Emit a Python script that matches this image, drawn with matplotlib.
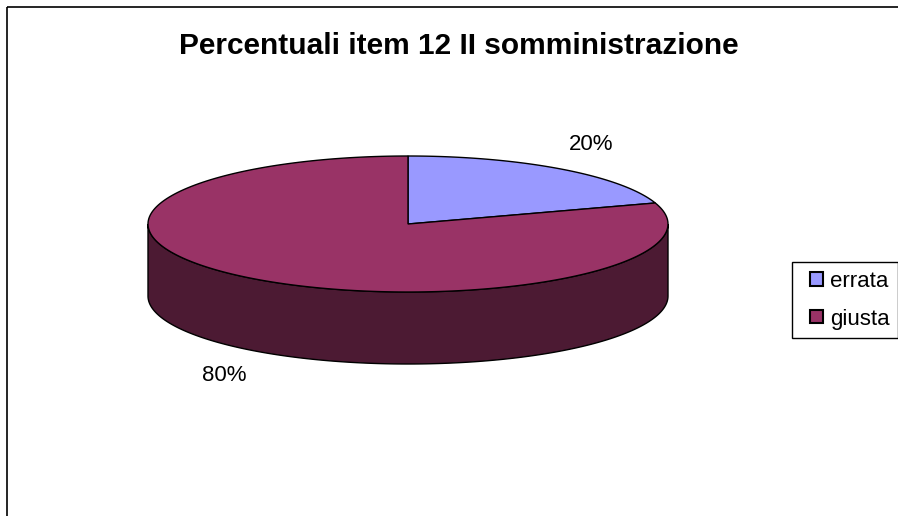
import numpy as np
import matplotlib.pyplot as plt
from matplotlib.patches import Polygon, Rectangle
from matplotlib.legend_handler import HandlerPatch

plt.rcParams['font.family'] = ['Liberation Sans', 'DejaVu Sans']

# data
labels = ['errata', 'giusta']
values = [20, 80]
top_colors = ['#9999FF', '#993366']
side_colors = ['#4D4D80', '#4C1A33']
title = 'Percentuali item 12 II somministrazione'

# geometry of the 3D pie in pixel space
cx, cy = 408, 224
rx, ry = 260, 68
depth = 72

fig = plt.figure(figsize=(8.98, 5.16), dpi=100)
ax = fig.add_axes([0, 0, 1, 1])
ax.set_xlim(0, 898)
ax.set_ylim(516, 0)
ax.axis('off')


def arc(a0, a1, dy=0, n=200):
    t = np.radians(np.linspace(a0, a1, n))
    return np.column_stack([cx + rx * np.cos(t), cy - ry * np.sin(t) + dy])


# slices go clockwise starting from 12 o'clock
fracs = np.array(values) / sum(values)
starts = 90 - 360 * np.concatenate([[0], np.cumsum(fracs)[:-1]])
ends = starts - 360 * fracs

# side walls (front half only: angles 180..360)
for s, e, col in zip(starts, ends, side_colors):
    lo, hi = min(s, e), max(s, e)
    for shift in (-360, 0, 360):
        a0 = max(lo + shift, 180)
        a1 = min(hi + shift, 360)
        if a1 > a0:
            upper = arc(a0, a1)
            lower = arc(a1, a0, dy=depth)
            ax.add_patch(Polygon(np.vstack([upper, lower]), closed=True,
                                 facecolor=col, edgecolor='black', lw=1.0))

# top faces
for s, e, col in zip(starts, ends, top_colors):
    pts = np.vstack([[cx, cy], arc(s, e)])
    ax.add_patch(Polygon(pts, closed=True, facecolor=col,
                         edgecolor='black', lw=1.0))

# percentage labels
for s, e, v in zip(starts, ends, values):
    m = np.radians((s + e) / 2)
    lx = cx + 1.2 * rx * np.cos(m)
    ly = cy - 1.45 * ry * np.sin(m)
    if np.sin(m) < 0:
        ly += depth
    ax.text(lx, ly, f'{v}%', ha='center', va='center', fontsize=16)

ax.text(459, 46, title, ha='center', va='center', fontsize=21.5,
        fontweight='bold')

# chart border (cut off at right and bottom)
ax.add_patch(Rectangle((7, 7), 1000, 600, fill=False, edgecolor='black',
                       lw=1.2, clip_on=False))


def square_right(legend, orig_handle, xdescent, ydescent, width, height,
                 fontsize):
    side = height
    return Rectangle((-xdescent + width - side, -ydescent), side, side)


handles = [Rectangle((0, 0), 1, 1, facecolor=c, edgecolor='black', lw=1.5)
           for c in top_colors]
leg = fig.legend(handles, labels, loc='upper left',
                 bbox_to_anchor=(792 / 898, 1 - 262 / 516),
                 fontsize=16, frameon=True, fancybox=False,
                 edgecolor='black', framealpha=1, handlelength=1.0,
                 handleheight=0.55, handletextpad=0.3, borderpad=0.4,
                 labelspacing=0.75, borderaxespad=0,
                 handler_map={Rectangle: HandlerPatch(patch_func=square_right)})
leg.get_frame().set_linewidth(1.0)

fig.savefig('out.png', dpi=100)
